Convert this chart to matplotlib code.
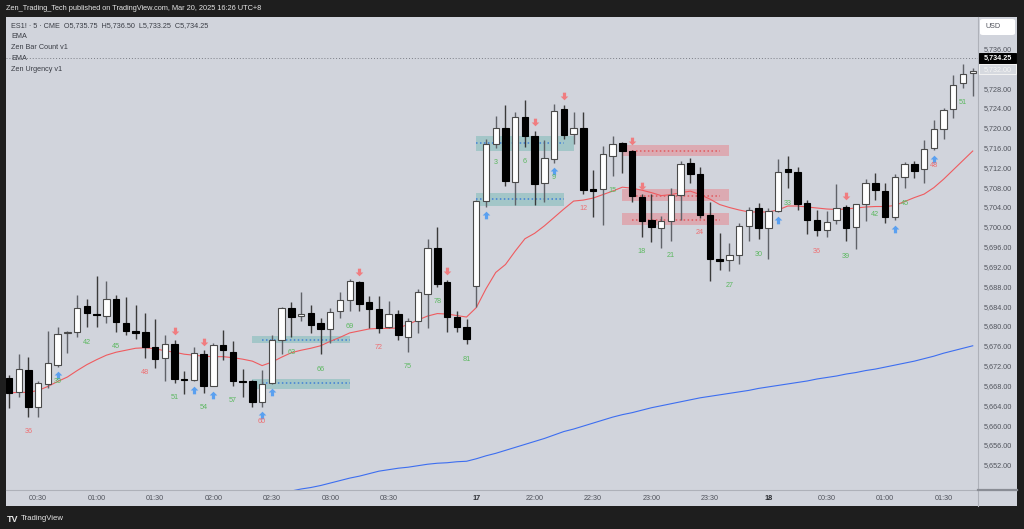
import matplotlib
matplotlib.use('Agg')
import matplotlib.pyplot as plt
import matplotlib.transforms as mtransforms
from matplotlib.patches import Rectangle, FancyBboxPatch
from matplotlib.lines import Line2D
from matplotlib.path import Path

plt.rcParams['font.family'] = ['Liberation Sans', 'DejaVu Sans']

# ---------------- data ----------------
opens = [5669.6, 5666.9, 5671.4, 5663.9, 5668.4, 5672.4, 5678.8, 5679.0, 5684.2, 5682.7,
         5682.3, 5685.6, 5680.7, 5679.1, 5678.9, 5676.0, 5673.7, 5676.6, 5669.5, 5669.2,
         5674.5, 5668.1, 5676.3, 5675.0, 5669.0, 5669.0, 5664.9, 5668.7, 5677.4, 5683.9,
         5682.3, 5682.9, 5680.7, 5679.6, 5683.3, 5685.4, 5689.0, 5685.0, 5683.7, 5680.0,
         5682.7, 5678.0, 5681.1, 5686.6, 5696.0, 5689.0, 5682.1, 5679.9, 5688.3, 5705.4,
         5717.0, 5720.2, 5709.2, 5722.4, 5718.6, 5709.0, 5713.8, 5723.9, 5719.0, 5720.1,
         5707.7, 5707.75, 5714.5, 5717.2, 5715.5, 5706.3, 5701.6, 5699.9, 5701.4, 5706.7,
         5713.0, 5710.8, 5702.6, 5693.8, 5693.5, 5694.5, 5700.4, 5703.9, 5699.9, 5703.4,
         5711.85, 5711.2, 5705.1, 5701.55, 5699.5, 5701.6, 5704.25, 5700.1, 5704.8, 5709.0,
         5707.5, 5702.1, 5710.2, 5712.8, 5711.8, 5716.2, 5719.9, 5723.9, 5729.3, 5731.2]
highs = [5670.3, 5674.5, 5674.0, 5669.1, 5679.2, 5679.9, 5679.1, 5686.4, 5685.6, 5690.3,
         5689.2, 5686.4, 5686.0, 5684.4, 5682.9, 5681.7, 5678.4, 5677.4, 5671.1, 5676.0,
         5675.3, 5676.8, 5679.4, 5677.1, 5671.5, 5669.3, 5671.4, 5678.4, 5684.1, 5685.0,
         5687.0, 5684.4, 5681.9, 5683.9, 5687.0, 5689.7, 5689.3, 5686.2, 5686.2, 5685.2,
         5683.5, 5681.9, 5687.6, 5697.7, 5700.1, 5689.5, 5683.3, 5681.6, 5705.7, 5718.0,
         5722.6, 5724.8, 5723.4, 5725.8, 5719.6, 5717.8, 5725.0, 5724.8, 5723.4, 5723.4,
         5711.6, 5716.5, 5718.6, 5717.4, 5715.8, 5706.8, 5706.9, 5702.4, 5708.0, 5713.5,
         5714.0, 5712.2, 5705.3, 5698.9, 5696.9, 5701.0, 5704.3, 5705.1, 5703.9, 5713.8,
         5714.5, 5712.2, 5705.7, 5703.6, 5703.4, 5708.8, 5704.7, 5704.9, 5709.8, 5711.0,
         5709.0, 5710.8, 5713.3, 5713.5, 5717.7, 5721.7, 5724.1, 5730.8, 5733.0, 5732.2]
lows = [5663.6, 5665.9, 5661.9, 5661.9, 5667.6, 5672.0, 5674.8, 5678.0, 5679.9, 5680.0,
        5680.7, 5679.0, 5678.4, 5677.6, 5673.8, 5671.8, 5669.0, 5668.7, 5666.4, 5669.0,
        5666.7, 5668.0, 5673.3, 5668.1, 5665.9, 5663.9, 5663.9, 5668.5, 5674.5, 5677.9,
        5681.1, 5678.7, 5674.5, 5676.7, 5681.9, 5683.2, 5683.2, 5679.7, 5678.8, 5679.7,
        5677.4, 5675.0, 5678.8, 5679.7, 5688.1, 5679.0, 5679.0, 5676.5, 5684.1, 5704.3,
        5716.2, 5708.5, 5704.6, 5716.4, 5704.6, 5705.3, 5713.1, 5718.0, 5716.9, 5706.9,
        5702.2, 5700.55, 5710.5, 5711.1, 5705.3, 5698.2, 5697.1, 5695.9, 5697.4, 5701.6,
        5709.0, 5702.0, 5689.3, 5691.5, 5691.3, 5692.8, 5697.4, 5697.7, 5693.8, 5703.2,
        5707.95, 5703.6, 5698.7, 5698.3, 5698.2, 5700.7, 5697.3, 5695.8, 5701.4, 5705.7,
        5700.9, 5701.56, 5708.0, 5710.1, 5709.0, 5715.7, 5717.9, 5722.2, 5728.3, 5726.6]
closes = [5666.7, 5671.6, 5663.9, 5668.7, 5672.7, 5678.6, 5679.0, 5683.9, 5682.9, 5682.4,
          5685.6, 5680.9, 5679.2, 5678.8, 5675.9, 5673.5, 5676.6, 5669.4, 5669.2, 5674.7,
          5668.1, 5676.3, 5675.3, 5669.0, 5668.9, 5664.9, 5668.4, 5677.4, 5683.8, 5682.1,
          5682.7, 5680.3, 5679.6, 5683.1, 5685.4, 5689.2, 5684.6, 5683.7, 5679.8, 5682.7,
          5678.4, 5681.2, 5687.0, 5696.0, 5688.6, 5682.1, 5679.9, 5677.6, 5705.4, 5717.0,
          5720.1, 5709.4, 5722.4, 5718.5, 5708.8, 5714.0, 5723.6, 5718.8, 5720.1, 5707.6,
          5707.5, 5714.8, 5717.0, 5715.5, 5706.4, 5701.4, 5700.1, 5701.4, 5706.6, 5712.9,
          5710.8, 5702.6, 5693.7, 5693.3, 5694.6, 5700.4, 5703.6, 5699.9, 5703.4, 5711.2,
          5711.2, 5704.8, 5701.6, 5699.5, 5701.2, 5704.1, 5699.9, 5704.8, 5709.0, 5707.6,
          5702.1, 5710.2, 5712.8, 5711.5, 5716.0, 5719.9, 5723.8, 5728.9, 5731.0, 5731.7]

ema_fast = [5666.7, 5666.8, 5666.8, 5667.2, 5668.0, 5669.0, 5669.9, 5671.2, 5672.4, 5673.4,
            5674.3, 5674.9, 5675.3, 5675.7, 5675.8, 5675.6, 5675.2, 5674.9, 5674.5, 5674.3,
            5674.1, 5674.0, 5674.0, 5673.8, 5673.5, 5673.1, 5672.2, 5672.9, 5673.9, 5674.8,
            5675.3, 5675.7, 5676.2, 5677.1, 5677.9, 5678.8, 5679.2, 5679.6, 5679.7, 5679.7,
            5679.8, 5680.5, 5681.4, 5682.2, 5682.7, 5682.6, 5682.3, 5682.0, 5683.9, 5687.7,
            5691.0, 5692.6, 5695.3, 5697.8, 5698.9, 5700.4, 5702.1, 5703.8, 5705.4, 5705.6,
            5706.0, 5706.7, 5707.4, 5708.2, 5708.0, 5707.6, 5707.1, 5706.5, 5706.7, 5707.1,
            5707.4, 5706.7, 5705.8, 5704.7, 5704.1, 5703.6, 5703.2, 5703.2, 5703.2, 5703.6,
            5704.4, 5704.4, 5704.2, 5704.0, 5703.8, 5703.7, 5703.8, 5704.0, 5704.2, 5704.3,
            5704.3, 5704.5, 5705.3, 5706.1, 5706.8, 5708.1, 5709.8, 5711.7, 5713.6, 5715.5]
ema_slow_start = 28
ema_slow = [5646.5, 5646.9, 5647.3, 5647.6, 5648.0, 5648.5, 5649.0, 5649.5, 5649.9, 5650.4,
            5650.9, 5651.2, 5651.5, 5651.7, 5652.0, 5652.3, 5652.5, 5652.6, 5652.8, 5652.9,
            5653.4, 5654.0, 5654.5, 5655.1, 5655.7, 5656.3, 5656.9, 5657.5, 5658.2, 5658.9,
            5659.4, 5660.0, 5660.6, 5661.2, 5661.8, 5662.3, 5662.7, 5663.2, 5663.7, 5664.1,
            5664.5, 5664.9, 5665.3, 5665.7, 5666.0, 5666.3, 5666.6, 5666.9, 5667.2, 5667.6,
            5667.9, 5668.2, 5668.5, 5668.8, 5669.1, 5669.5, 5669.8, 5670.1, 5670.5, 5670.8,
            5671.2, 5671.5, 5671.9, 5672.3, 5672.7, 5673.1, 5673.6, 5674.1, 5674.7, 5675.2,
            5675.7, 5676.2]

count_bars = [2, 5, 8, 11, 14, 17, 20, 23, 26, 29, 32, 35, 38, 41, 44, 47,
              50, 53, 56, 59, 62, 65, 68, 71, 74, 77, 80, 83, 86, 89, 92, 95, 98]
count_text = ['36', '39', '42', '45', '48', '51', '54', '57', '60', '63', '66', '69', '72', '75', '78', '81',
              '3', '6', '9', '12', '15', '18', '21', '24', '27', '30', '33', '36', '39', '42', '45', '48', '51']
count_red = ['36', '48', '60', '72', '12', '24']

up_arrow_bars = [5, 19, 21, 26, 27, 49, 56, 79, 91, 95]
down_arrow_bars = [17, 20, 36, 45, 54, 57, 64, 65, 86]

# zones: (start bar, end bar, line start, line end, low, high, line level)
teal_zones = [(25, 35, 26, 35, 5676.8, 5678.2, 5677.4),
              (25, 35, 26, 35, 5667.5, 5669.4, 5668.75),
              (48, 58, 48, 57, 5715.5, 5718.6, 5717.1),
              (48, 57, 48, 57, 5704.4, 5707.0, 5705.8)]
red_zones = [(63, 74, 64, 73, 5714.4, 5716.7, 5715.5),
             (63, 74, 64, 73, 5705.4, 5707.9, 5706.5),
             (63, 74, 64, 73, 5700.6, 5702.9, 5701.5)]

last_price = 5734.25
ema_label_price = 5732.00
price_ticks = [5652, 5656, 5660, 5664, 5668, 5672, 5676, 5680, 5684, 5688, 5692, 5696, 5700,
               5704, 5708, 5712, 5716, 5720, 5724, 5728, 5736]
time_tick_bars = [3, 9, 15, 21, 27, 33, 39, 48, 54, 60, 66, 72, 78, 84, 90, 96]
time_tick_labels = ['00:30', '01:00', '01:30', '02:00', '02:30', '03:00', '03:30', '17',
                    '22:00', '22:30', '23:00', '23:30', '18', '00:30', '01:00', '01:30']

# ---------------- figure ----------------
W, H = 1024, 529
fig = plt.figure(figsize=(W / 100, H / 100), dpi=100)
DARK = '#1e1e1e'
BG = '#d1d4dc'
fig.patch.set_facecolor(DARK)


def fx(px):
    return px / W


def fy(py):
    return 1 - py / H


PL, PR, PT, PB = 6, 1017, 16.7, 506
AX_R, AX_B = 977.7, 490
fig.patches.append(Rectangle((fx(PL), fy(PB)), fx(PR) - fx(PL), fy(PT) - fy(PB),
                             transform=fig.transFigure, facecolor=BG, edgecolor='none', zorder=-5))

ax = fig.add_axes([fx(PL), fy(AX_B), fx(AX_R) - fx(PL), fy(PT) - fy(AX_B)])
ax.set_facecolor(BG)
ax.set_xlim(-0.31, 99.51)
ax.set_ylim(5647.1, 5742.6)
for s in ax.spines.values():
    s.set_visible(False)
ax.set_xticks([])
ax.set_yticks([])

# separators
fig.add_artist(Line2D([fx(AX_R), fx(AX_R)], [fy(PT), fy(PB)], color='#aeb1b9', lw=0.8,
                      transform=fig.transFigure))
fig.add_artist(Line2D([fx(PL), fx(PR)], [fy(AX_B), fy(AX_B)], color='#aeb1b9', lw=0.8,
                      transform=fig.transFigure))
fig.add_artist(Line2D([fx(AX_R), fx(PR)], [fy(AX_B), fy(AX_B)], color='#8a8d95', lw=1.6,
                      transform=fig.transFigure))

# zones
for a, b, la, lb, lo, hi, lv in teal_zones:
    ax.add_patch(Rectangle((a, lo), b - a, hi - lo, facecolor='#a3c6c8', edgecolor='none', zorder=1))
    ax.plot([la, lb], [lv, lv], color='#3f7fd6', lw=1.1, ls=(0, (1, 1.6)), zorder=1.5)
for a, b, la, lb, lo, hi, lv in red_zones:
    ax.add_patch(Rectangle((a, lo), b - a, hi - lo, facecolor='#dcaab2', edgecolor='none', zorder=1))
    ax.plot([la, lb], [lv, lv], color='#e05a5e', lw=1.1, ls=(0, (1, 1.6)), zorder=1.5)

# last price dotted line
ax.axhline(last_price, color='#7b7e86', lw=0.7, ls=(0, (1, 2)), zorder=1)

# EMAs
ax.plot(range(len(ema_fast)), ema_fast, color='#ef5b5f', lw=0.8, zorder=2)
ax.plot(range(ema_slow_start, ema_slow_start + len(ema_slow)), ema_slow, color='#3d6ef0', lw=0.8, zorder=2)

# candles
bw = 0.66
for i, (o, h, l, c) in enumerate(zip(opens, highs, lows, closes)):
    up = c >= o
    ax.vlines(i, l, h, color='#606268' if up else '#3a3a3a', lw=1.0, zorder=3)
    bot = min(o, c)
    ht = max(abs(c - o), 0.25)
    ax.add_patch(Rectangle((i - bw / 2, bot), bw, ht,
                           facecolor='#ffffff' if up else '#000000',
                           edgecolor='#4a4a4a' if up else '#000000', lw=0.8, zorder=4))

# arrows
up_path = Path([(0, 1), (1, 0), (0.42, 0), (0.42, -1), (-0.42, -1), (-0.42, 0), (-1, 0), (0, 1)],
               [Path.MOVETO] + [Path.LINETO] * 6 + [Path.CLOSEPOLY])
down_path = Path([(0, -1), (1, 0), (0.42, 0), (0.42, 1), (-0.42, 1), (-0.42, 0), (-1, 0), (0, -1)],
                 [Path.MOVETO] + [Path.LINETO] * 6 + [Path.CLOSEPOLY])
below8 = ax.transData + mtransforms.ScaledTranslation(0, -0.085, fig.dpi_scale_trans)
above8 = ax.transData + mtransforms.ScaledTranslation(0, 0.085, fig.dpi_scale_trans)
for b in up_arrow_bars:
    ax.plot([b], [lows[b]], marker=up_path, ms=5.5, color='#5aa0f0', mec='none', transform=below8, zorder=5)
for b in down_arrow_bars:
    ax.plot([b], [highs[b]], marker=down_path, ms=5.5, color='#f07d80', mec='none', transform=above8, zorder=5)

# bar count labels
below15 = ax.transData + mtransforms.ScaledTranslation(0, -0.15, fig.dpi_scale_trans)
for b, t in zip(count_bars, count_text):
    col = '#ee6f72' if t in count_red else '#5cb860'
    ax.text(b, lows[b], t, transform=below15, ha='center', va='center', fontsize=5.2, color=col, zorder=6)

# price axis labels
ptrans = mtransforms.blended_transform_factory(fig.transFigure, ax.transData)
for p in price_ticks:
    ax.text(fx(997.5), p, f'{p:,.2f}', transform=ptrans, ha='center', va='center', fontsize=5.2,
            color='#50535c', clip_on=False)


# special price labels
def price_box(price, face, edge, tcol, txt):
    y = ax.transData.transform((0, price))[1]
    ypx = H - y
    fig.patches.append(Rectangle((fx(978.5), fy(ypx + 5)), fx(1016) - fx(978.5), fy(ypx - 5) - fy(ypx + 5),
                                 transform=fig.transFigure, facecolor=face, edgecolor=edge, lw=0.7, zorder=5))
    fig.text(fx(997.5), fy(ypx), txt, ha='center', va='center', fontsize=5.2, color=tcol, zorder=6,
             fontweight='bold' if face == '#000000' else 'normal')


price_box(ema_label_price, '#d6d9df', '#f2f2f2', '#f4f4f4', f'{ema_label_price:,.2f}')
price_box(last_price, '#000000', '#000000', '#ffffff', f'{last_price:,.2f}')

# USD box
fig.patches.append(FancyBboxPatch((fx(980), fy(35)), fx(1015) - fx(980), fy(19) - fy(35),
                                  boxstyle='round,pad=0,rounding_size=0.003', transform=fig.transFigure,
                                  facecolor='#ffffff', edgecolor='none', zorder=5))
fig.text(fx(985), fy(27), 'USD', ha='left', va='center', fontsize=5.2, color='#50535c', zorder=6)

# time axis labels
ttrans = mtransforms.blended_transform_factory(ax.transData, fig.transFigure)
for b, lab in zip(time_tick_bars, time_tick_labels):
    bold = lab in ('17', '18')
    ax.text(b, fy(498), lab, transform=ttrans, ha='center', va='center', fontsize=5.2,
            color='#2a2c31' if bold else '#50535c', fontweight='bold' if bold else 'normal', clip_on=False)

# legend texts
legend_lines = ['ES1! · 5 · CME  O5,735.75  H5,736.50  L5,733.25  C5,734.25', 'EMA', 'Zen Bar Count v1',
                'EMA', 'Zen Urgency v1']
for k, t in enumerate(legend_lines):
    fig.text(fx(11), fy(26 + k * 10.8), t, ha='left', va='center', fontsize=5.2, color='#3a3d45')

# header & footer
fig.text(fx(6), fy(8.3), 'Zen_Trading_Tech published on TradingView.com, Mar 20, 2025 16:26 UTC+8',
         ha='left', va='center', fontsize=5.3, color='#e6e6e6')
fig.text(fx(7), fy(519), 'TV', ha='left', va='center', fontsize=6.5, color='#e6e6e6', fontweight='bold')
fig.text(fx(21), fy(519), 'TradingView', ha='left', va='center', fontsize=5.6, color='#e6e6e6')

fig.savefig('out.png', dpi=100, facecolor=DARK)
